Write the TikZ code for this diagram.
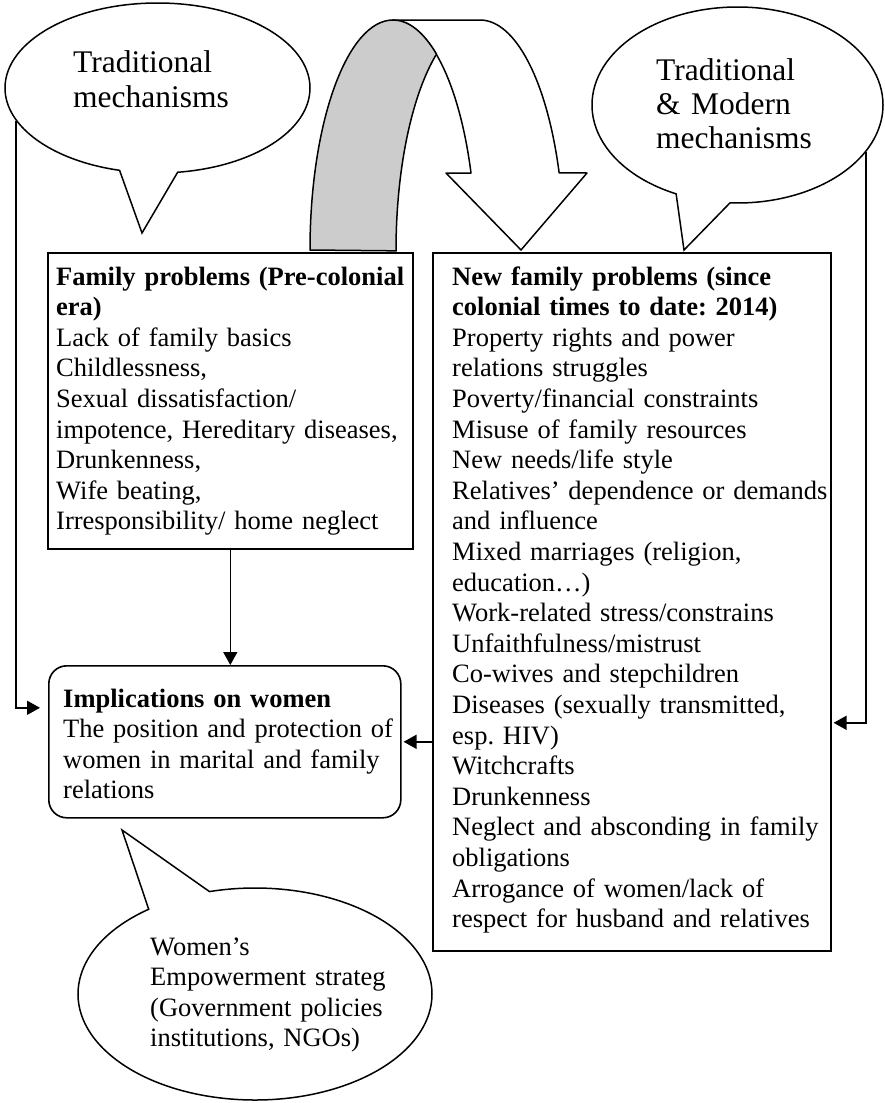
\documentclass[tikz,border=0pt]{standalone}
\usepackage{fontspec}
\setmainfont{Liberation Serif}
\usetikzlibrary{arrows.meta}
\usetikzlibrary{shapes.callouts}
\frenchspacing

\begin{document}
\begin{tikzpicture}[x=1pt, y=1pt,
    bodytext/.style={font=\fontsize{26.5}{30.6}\selectfont, align=left, text width=420pt, inner sep=0pt, anchor=base west},
    bubtext/.style={font=\fontsize{31.5}{34}\selectfont, align=left, text width=200pt, inner sep=0pt, anchor=base west},
    probbox/.style={draw, line width=1.6pt, inner sep=0pt, anchor=north west},
    bubble/.style={ellipse callout, draw, fill=white, line width=1.5pt, inner sep=0pt, callout pointer arc=22},
    link/.style={-{Triangle[length=13pt, width=14pt]}, line width=1.6pt}]
    \useasboundingbox (0,0) rectangle (884,-1103);
    % curved arrow
    \draw[fill=white, line width=1.5pt, line join=round] (393,-20) -- (480,-20)
        arc[start angle=90, end angle=19.6, x radius=84, y radius=230]
        -- (587,-173) -- (521,-250) -- (446,-173) -- (471,-173)
        arc[start angle=19.6, end angle=90, x radius=83, y radius=230] -- cycle;
    \draw[fill=gray!40, line width=1.5pt] (310,-250)
        arc[start angle=180, end angle=58.4, x radius=83, y radius=230]
        arc[start angle=121.2, end angle=180, x radius=84, y radius=230] -- cycle;
    % boxes
    \node[probbox, minimum width=365pt, minimum height=296pt] (oldprob) at (47,-252) {};
    \node[probbox, minimum width=398pt, minimum height=698pt] (newprob) at (432,-252) {};
    \node[probbox, rounded corners=18pt, minimum width=352pt, minimum height=152pt] (impl) at (48,-665) {};
    \node[bodytext] (oldtext) at (56,-285) {\textbf{Family problems (Pre-colonial}\\\textbf{era)}\\Lack of family basics\\Childlessness,\\Sexual dissatisfaction/\\impotence, Hereditary diseases,\\Drunkenness,\\Wife beating,\\Irresponsibility/ home neglect};
    \node[bodytext] (newtext) at (452,-285) {\textbf{New family problems (since}\\\textbf{colonial times to date: 2014)}\\Property rights and power\\relations struggles\\Poverty/financial constraints\\Misuse of family resources\\New needs/life style\\Relatives' dependence or demands\\and influence\\Mixed marriages (religion,\\education…)\\Work-related stress/constrains\\Unfaithfulness/mistrust\\Co-wives and stepchildren\\Diseases (sexually transmitted,\\esp. HIV)\\Witchcrafts\\Drunkenness\\Neglect and absconding in family\\obligations\\Arrogance of women/lack of\\respect for husband and relatives};
    \node[bodytext] (impltext) at (63,-707) {\textbf{Implications on women}\\The position and protection of\\women in marital and family\\relations};
    % callouts
    \node[bubble, minimum width=305pt, minimum height=170pt, callout absolute pointer={(142,-233)}] (tradL) at (157.5,-88) {};
    \node[bubble, minimum width=291pt, minimum height=196pt, callout absolute pointer={(684,-250)}] (tradR) at (737.5,-105) {};
    \node[bubble, minimum width=354pt, minimum height=212pt, callout absolute pointer={(122,-830)}] (empow) at (255,-994) {};
    \node[bubtext, font=\fontsize{31.5}{35}\selectfont] (tradLtext) at (73,-72) {Traditional\\mechanisms};
    \node[bubtext] (tradRtext) at (656,-80) {Traditional\\\& Modern\\mechanisms};
    \node[bodytext] (empowtext) at (150,-955) {Women's\\Empowerment strateg\\(Government policies\\institutions, NGOs)};
    % connectors
    \coordinate (inL) at ([yshift=34pt]impl.west);
    \coordinate (inR) at ([yshift=-121pt]newprob.east);
    \draw[link, shorten >=8pt] (tradL.193) |- (inL);
    \draw[link, shorten >=2pt] (tradR.340) |- (inR);
    \draw[link] (oldprob.south) -- (oldprob.south |- impl.north);
    \draw[link, shorten >=2pt] (newprob.west |- impl.east) -- (impl.east);
\end{tikzpicture}
\end{document}
